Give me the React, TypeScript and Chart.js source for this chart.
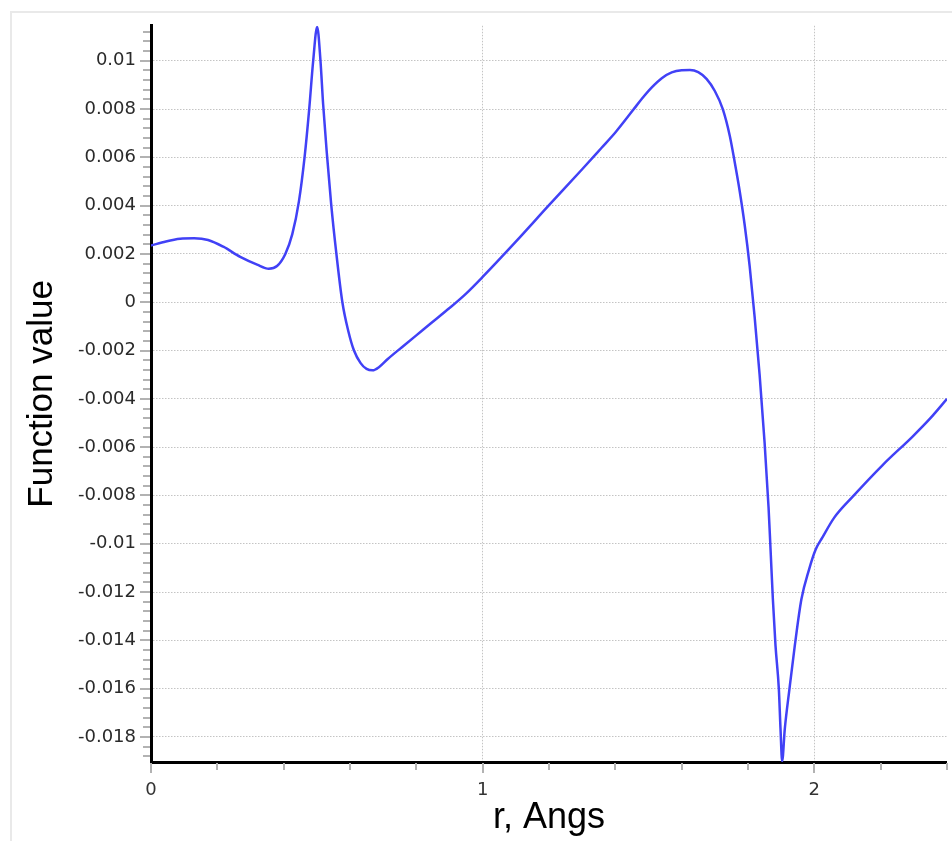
import { useEffect, useRef } from "react";
import { Chart, registerables } from "chart.js";

Chart.register(...registerables);

// r (Angstrom) sample positions
const rValues = [
  0.0, 0.045, 0.088, 0.13, 0.172, 0.218, 0.269, 0.32, 0.355, 0.38,
  0.405, 0.426, 0.446, 0.463, 0.477, 0.489, 0.501, 0.511, 0.519, 0.53,
  0.543, 0.559, 0.577, 0.595, 0.612, 0.632, 0.65, 0.668, 0.688, 0.713,
  0.762, 0.814, 0.844, 0.9, 0.95, 1.0, 1.1, 1.2, 1.3, 1.358,
  1.4, 1.454, 1.48, 1.51, 1.54, 1.57, 1.6, 1.625, 1.65, 1.675,
  1.7, 1.724, 1.745, 1.76, 1.775, 1.79, 1.805, 1.82, 1.835, 1.85,
  1.862, 1.868, 1.875, 1.883, 1.893, 1.898, 1.903, 1.911, 1.925, 1.941,
  1.961, 1.984, 2.004, 2.024, 2.06, 2.115, 2.206, 2.297, 2.35, 2.4,
];

// Function values at those positions
const functionValues = [
  0.00235, 0.00252, 0.00263, 0.00265, 0.00258, 0.0023, 0.00188, 0.00156, 0.00139, 0.0015,
  0.002, 0.00282, 0.00418, 0.006, 0.008, 0.01, 0.0114, 0.01, 0.0082, 0.0062,
  0.0041, 0.002, 0.0, -0.0012, -0.002, -0.00252, -0.00276, -0.00282, -0.00268, -0.00236,
  -0.0018, -0.00121, -0.00087, -0.00024, 0.00036, 0.00105, 0.00251, 0.00402, 0.00551, 0.00639,
  0.00703, 0.00797, 0.00843, 0.0089, 0.00928, 0.00952, 0.00961, 0.00962, 0.00953, 0.00925,
  0.00875, 0.008, 0.0069, 0.0058, 0.0046, 0.0032, 0.0015, -0.0006, -0.003, -0.0058,
  -0.0085, -0.01024, -0.0123, -0.01423, -0.01601, -0.01766, -0.019, -0.01766, -0.01601, -0.01423,
  -0.0123, -0.01107, -0.01024, -0.00975, -0.00892, -0.00806, -0.00674, -0.00555, -0.0048, -0.004,
];

const yTickValues = [
  0.01, 0.008, 0.006, 0.004, 0.002, 0, -0.002, -0.004, -0.006, -0.008,
  -0.01, -0.012, -0.014, -0.016, -0.018,
];
const xTickValues = [0, 1, 2];

const yMin = -0.01904;
const yMax = 0.01145;
const xMin = 0;
const xMax = 2.4;
const yMinorStep = 0.0004;
const xMinorStep = 0.2;
const minorPerMajor = 5;

export default function App() {
  const ref = useRef<HTMLCanvasElement | null>(null);

  useEffect(() => {
    if (!ref.current) return;

    const decorPlugin = {
      id: "decor",
      beforeDraw(chart: any) {
        const ctx = chart.ctx;
        ctx.save();
        ctx.fillStyle = "#ffffff";
        ctx.fillRect(0, 0, chart.width, chart.height);
        ctx.strokeStyle = "#e9e9e9";
        ctx.lineWidth = 2;
        ctx.strokeRect(11, 12, 3000, 3000);
        ctx.restore();
      },
      beforeDatasetsDraw(chart: any) {
        const ctx = chart.ctx;
        const ys = chart.scales.y;
        const xs = chart.scales.x;
        const area = chart.chartArea;
        ctx.save();
        ctx.strokeStyle = "#b2b2b2";
        ctx.lineWidth = 2;
        ctx.beginPath();
        const iy0 = Math.ceil(ys.min / yMinorStep - 1e-6);
        const iy1 = Math.floor(ys.max / yMinorStep + 1e-6);
        for (let i = iy0; i <= iy1; i++) {
          const p = Math.round(ys.getPixelForValue(i * yMinorStep));
          const major = i % minorPerMajor === 0;
          const len = major ? 10 : 7;
          ctx.moveTo(area.left - 1 - len, p);
          ctx.lineTo(area.left - 1, p);
        }
        const ix0 = Math.ceil(xs.min / xMinorStep - 1e-6);
        const ix1 = Math.floor(xs.max / xMinorStep + 1e-6);
        for (let i = ix0; i <= ix1; i++) {
          const p = Math.round(xs.getPixelForValue(i * xMinorStep));
          const major = i % minorPerMajor === 0;
          const len = major ? 10 : 7;
          ctx.moveTo(p, area.bottom + 1);
          ctx.lineTo(p, area.bottom + 1 + len);
        }
        ctx.stroke();
        ctx.restore();
      },
    };

    const points = rValues.map((r, i) => ({ x: r, y: functionValues[i] }));

    const chart = new Chart(ref.current, {
      type: "line",
      data: {
        datasets: [
          {
            data: points,
            borderColor: "#4141f6",
            borderWidth: 2.5,
            pointRadius: 0,
            fill: false,
            cubicInterpolationMode: "monotone",
            tension: 0.4,
          },
        ],
      },
      options: {
        animation: false,
        responsive: true,
        maintainAspectRatio: false,
        layout: { padding: { top: 22, right: 5, left: 0, bottom: 0 } },
        plugins: {
          legend: { display: false },
          tooltip: { enabled: false },
        },
        scales: {
          x: {
            type: "linear",
            position: "bottom",
            min: xMin,
            max: xMax,
            afterBuildTicks: (scale: any) => {
              scale.ticks = xTickValues.map((value) => ({ value }));
            },
            afterFit: (scale: any) => {
              scale.height = 79;
            },
            grid: {
              drawTicks: false,
              color: "#c4c4c4",
              lineWidth: (c: any) => (c.tick && c.tick.value === 0 ? 0 : 1),
            },
            border: { display: true, color: "#000000", width: 3, dash: [1.5, 1.5] },
            ticks: {
              padding: 18,
              maxRotation: 0,
              autoSkip: false,
              color: "#333333",
              font: { family: "DejaVu Sans", size: 18 },
              callback: (v: any) => String(Number(v)),
            },
            title: {
              display: true,
              text: "r, Angs",
              color: "#000000",
              font: { family: "Liberation Sans", size: 36 },
              padding: { top: 0, bottom: 1 },
            },
          },
          y: {
            type: "linear",
            position: "left",
            min: yMin,
            max: yMax,
            afterBuildTicks: (scale: any) => {
              scale.ticks = yTickValues.map((value) => ({ value }));
            },
            afterFit: (scale: any) => {
              scale.width = 151;
            },
            grid: {
              drawTicks: false,
              color: "#c4c4c4",
              lineWidth: 1,
            },
            border: { display: true, color: "#000000", width: 3, dash: [1.5, 1.5] },
            ticks: {
              padding: 15,
              autoSkip: false,
              color: "#2a2a2a",
              font: { family: "DejaVu Sans", size: 18 },
              callback: (v: any) => {
                const n = Number(Number(v).toFixed(4));
                return n === 0 ? "0" : String(n);
              },
            },
            title: {
              display: true,
              text: "Function value",
              color: "#000000",
              font: { family: "Liberation Sans", size: 35 },
              padding: { top: 21, bottom: 0 },
            },
          },
        },
      },
      plugins: [decorPlugin],
    } as any);

    return () => chart.destroy();
  }, []);

  return (
    <div
      style={{
        position: "fixed",
        left: 0,
        top: 0,
        width: 952,
        height: 841,
        background: "#ffffff",
      }}
    >
      <canvas ref={ref} />
    </div>
  );
}
